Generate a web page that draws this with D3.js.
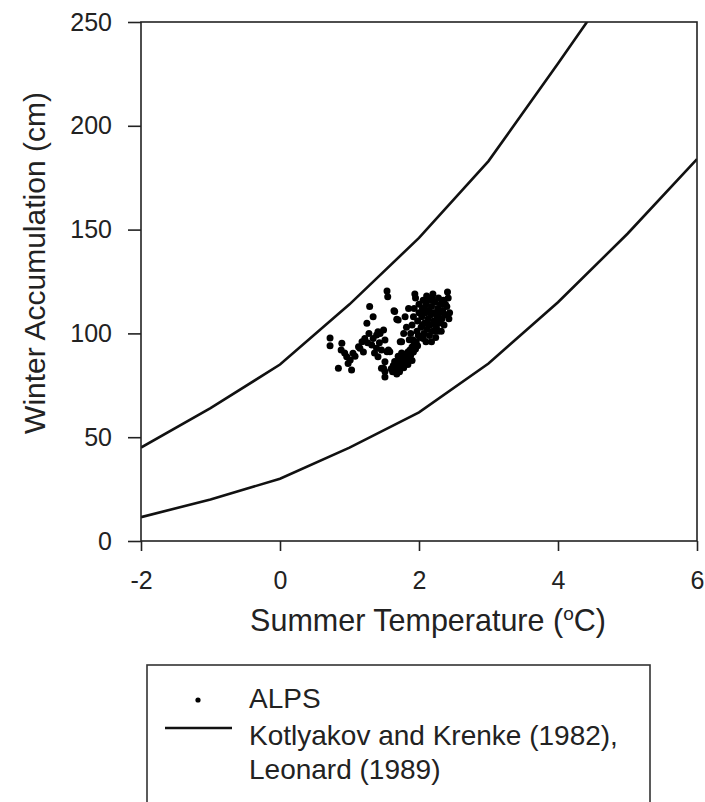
<!DOCTYPE html>
<html>
<head>
<meta charset="utf-8">
<script src="https://cdn.jsdelivr.net/npm/d3@7"></script>
<style>
  body { margin: 0; background: #fff; }
  svg { display: block; font-family: "Liberation Sans", Arial, sans-serif; }
</style>
</head>
<body>
<div id="chart"></div>
<script>
// summer temperature (°C) and winter accumulation (cm), ALPS points
const alpsTemp = [
  0.72, 0.72, 0.89, 0.88, 0.96, 0.84, 1.03, 1.01, 1.05, 1.13, 1.15, 1.18, 1.22, 1.25, 1.28, 1.29,
  1.34, 1.34, 1.32, 1.39, 1.39, 1.41, 1.41, 1.44, 1.46, 1.49, 1.51, 1.51, 1.49, 1.46, 1.51, 1.51,
  1.54, 1.56, 1.58, 1.54, 1.55, 1.64, 1.68, 0.93, 1.08, 1.20, 1.26, 1.36, 1.43, 0.98,
  1.60, 1.63, 1.66, 1.68, 1.70, 1.72, 1.74, 1.76, 1.78, 1.80, 1.80, 1.82, 1.84, 1.85, 1.87, 1.88,
  1.90, 1.92, 1.93, 1.95, 1.96, 1.98, 1.65, 1.70, 1.75, 1.78, 1.84, 1.72, 1.62, 1.90, 1.68,
  1.65, 1.70, 1.73, 1.75, 1.78, 1.82, 1.80, 1.85, 1.86, 1.91,
  1.88, 1.90, 1.92, 1.93, 1.95, 1.94, 1.97, 1.98, 2.00, 2.00, 2.02, 2.03, 2.04, 2.05, 2.06, 2.07,
  2.08, 2.09, 2.10, 2.10, 2.11, 2.12, 2.13, 2.14, 2.15, 2.16, 2.17, 2.18, 2.19, 2.20, 2.21, 2.22,
  2.23, 2.24, 2.25, 2.26, 2.27, 2.28, 2.29, 2.30, 2.31, 2.32, 2.33, 2.34, 2.35, 2.36, 2.38, 2.40,
  2.41, 2.42, 2.43, 2.44, 2.20, 2.15, 2.05, 1.99, 2.18, 2.06, 2.27, 2.12, 2.23, 2.08, 2.30, 2.38
];
const alpsAccum = [
  97.8, 94.0, 95.2, 92.0, 88.8, 83.2, 82.4, 87.2, 90.4, 93.6, 92.8, 96.0, 97.6, 104.9, 100.0, 112.9,
  108.0, 97.6, 94.4, 99.2, 92.8, 100.8, 88.8, 100.0, 92.0, 101.6, 96.8, 86.4, 83.2, 83.2, 81.6, 79.0,
  91.2, 92.0, 91.2, 120.4, 117.6, 110.9, 106.8, 90.5, 89.0, 91.0, 95.5, 90.5, 95.5, 85.5,
  83.0, 84.5, 83.0, 85.0, 86.5, 84.0, 87.0, 85.5, 88.0, 86.0, 90.0, 88.5, 91.0, 87.5, 92.0, 89.5,
  93.5, 91.0, 95.0, 92.5, 96.0, 94.0, 86.5, 89.0, 90.5, 83.5, 85.0, 81.5, 81.5, 87.0, 80.5,
  110.5, 106.5, 96.0, 96.0, 100.0, 103.0, 108.0, 112.0, 97.0, 97.0,
  100.0, 104.0, 108.0, 112.0, 117.0, 119.0, 101.0, 106.0, 110.0, 114.0, 98.0, 103.0, 108.0, 112.0, 116.0, 100.0,
  105.0, 110.0, 96.0, 114.0, 118.0, 102.0, 107.0, 111.0, 99.0, 104.0, 109.0, 113.0, 117.0, 101.0, 106.0, 110.0,
  115.0, 98.0, 103.0, 108.0, 112.0, 117.0, 105.0, 110.0, 114.0, 101.0, 107.0, 111.0, 116.0, 104.0, 109.0, 113.0,
  120.0, 117.0, 107.0, 110.0, 119.0, 116.0, 104.0, 99.0, 96.0, 97.5, 101.0, 105.0, 105.0, 112.0, 106.0, 114.0
];

// Kotlyakov and Krenke (1982), Leonard (1989) envelope curves
const curveTemp = [-2, -1, 0, 1, 2, 3, 4, 5, 6];
const upperAccum = [45, 64, 85, 114, 146, 183, 230, 278, 330];
const lowerAccum = [11.5, 20, 30, 45, 62, 85.5, 115, 148, 184];

const xTicks = [-2, 0, 2, 4, 6];
const yTicks = [0, 50, 100, 150, 200, 250];
const legendLabels = ["ALPS", "Kotlyakov and Krenke (1982),", "Leonard (1989)"];

const W = 705, H = 802;
const plotL = 141, plotR = 697, plotT = 22, plotB = 541;

const svg = d3.select("#chart").append("svg")
  .attr("width", W)
  .attr("height", H);

const x = d3.scaleLinear().domain([-2, 6]).range([plotL, plotR]);
const y = d3.scaleLinear().domain([0, 250]).range([plotB, plotT]);

svg.append("defs").append("clipPath")
  .attr("id", "plot-clip")
  .append("rect")
  .attr("x", plotL).attr("y", plotT)
  .attr("width", plotR - plotL).attr("height", plotB - plotT);

// curves
const line = d3.line()
  .x(d => x(d[0]))
  .y(d => y(d[1]));

[upperAccum, lowerAccum].forEach(vals => {
  svg.append("path")
    .datum(curveTemp.map((t, i) => [t, vals[i]]))
    .attr("d", line)
    .attr("clip-path", "url(#plot-clip)")
    .attr("fill", "none")
    .attr("stroke", "#111")
    .attr("stroke-width", 2.6);
});

// points
svg.append("g")
  .selectAll("circle")
  .data(alpsTemp.map((t, i) => [t, alpsAccum[i]]))
  .enter()
  .append("circle")
  .attr("cx", d => x(d[0]))
  .attr("cy", d => y(d[1]))
  .attr("r", 3.5)
  .attr("fill", "#000");

// frame
svg.append("rect")
  .attr("x", plotL).attr("y", plotT)
  .attr("width", plotR - plotL).attr("height", plotB - plotT)
  .attr("fill", "none")
  .attr("stroke", "#222")
  .attr("stroke-width", 1.6);

const xAxis = svg.append("g")
  .attr("transform", "translate(0," + plotB + ")")
  .call(d3.axisBottom(x).tickValues(xTicks).tickSize(10).tickPadding(20).tickFormat(d3.format("d")));

const yAxis = svg.append("g")
  .attr("transform", "translate(" + plotL + ",0)")
  .call(d3.axisLeft(y).tickValues(yTicks).tickSize(13).tickPadding(16).tickFormat(d3.format("d")));

[xAxis, yAxis].forEach(g => {
  g.select(".domain").remove();
  g.selectAll("line").attr("stroke", "#222").attr("stroke-width", 1.6);
  g.selectAll("text")
    .attr("fill", "#222")
    .style("font-family", "'Liberation Sans', Arial, sans-serif")
    .style("font-size", "25px");
});
// plain hyphen for the minus sign, as in the original
xAxis.selectAll("text").text(d => String(d));

// axis titles
const xTitle = svg.append("text")
  .attr("x", 428)
  .attr("y", 631)
  .attr("text-anchor", "middle")
  .attr("fill", "#222")
  .style("font-size", "30.5px")
  .text("Summer Temperature (");
xTitle.append("tspan")
  .attr("dy", -11)
  .style("font-size", "19px")
  .text("o");
xTitle.append("tspan")
  .attr("dy", 11)
  .text("C)");

svg.append("text")
  .attr("transform", "translate(45,263) rotate(-90)")
  .attr("text-anchor", "middle")
  .attr("fill", "#222")
  .style("font-size", "30px")
  .text("Winter Accumulation (cm)");

// legend
const legend = svg.append("g");
legend.append("rect")
  .attr("x", 147).attr("y", 665)
  .attr("width", 503).attr("height", 150)
  .attr("fill", "#fff")
  .attr("stroke", "#333")
  .attr("stroke-width", 1.6);

legend.append("circle")
  .attr("cx", 198).attr("cy", 700)
  .attr("r", 2.6)
  .attr("fill", "#000");

legend.append("line")
  .attr("x1", 165).attr("x2", 232)
  .attr("y1", 728).attr("y2", 728)
  .attr("stroke", "#111")
  .attr("stroke-width", 2.6);

legend.selectAll("text.lbl")
  .data(legendLabels)
  .enter()
  .append("text")
  .attr("class", "lbl")
  .attr("x", 249)
  .attr("y", (d, i) => [708, 745, 779][i])
  .attr("fill", "#222")
  .style("font-size", "28px")
  .text(d => d);
</script>
</body>
</html>
